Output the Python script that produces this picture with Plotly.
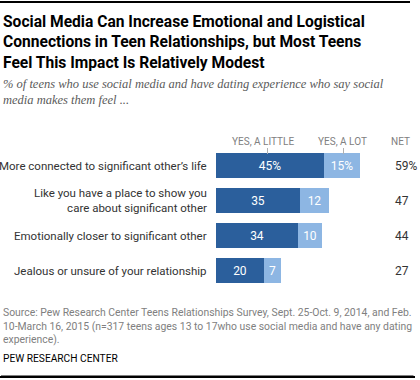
import plotly.graph_objects as go

categories = ["More connected to significant other’s life",
              "Like you have a place to show you<br>care about significant other",
              "Emotionally closer to significant other",
              "Jealous or unsure of your relationship"]
a_little = [45, 35, 34, 20]
a_lot = [15, 12, 10, 7]
net = [59, 47, 44, 27]
little_labels = ["45%", "35", "34", "20"]
lot_labels = ["15%", "12", "10", "7"]
net_labels = ["59%", "47", "44", "27"]

W, H = 420, 380
L, T, B = 216, 148, 92
PW = W - L
PH = H - T - B
XMAX = PW / 2.4

def px(x):
    return (x - L) / PW

def py(y):
    return (H - B - y) / PH

DARK = "#2b5f9c"
LIGHT = "#8db6e3"

fig = go.Figure()
ypos = list(range(len(categories)))
fig.add_trace(go.Bar(y=ypos, x=a_little, orientation="h", marker_color=DARK,
                     marker_line_width=0, width=0.71, text=little_labels,
                     textposition="inside", insidetextanchor="middle",
                     textfont=dict(color="white", size=12, family="Roboto"),
                     hoverinfo="skip"))
fig.add_trace(go.Bar(y=ypos, x=a_lot, orientation="h", marker_color=LIGHT,
                     marker_line_width=0, width=0.71, text=lot_labels,
                     textposition="inside", insidetextanchor="middle",
                     textfont=dict(color="white", size=12, family="Roboto"),
                     hoverinfo="skip"))

ann = []
for i, c in enumerate(categories):
    ann.append(dict(x=px(209), xref="paper", y=i, yref="y", text=c, showarrow=False,
                    xanchor="right", align="right",
                    font=dict(size=11.5, family="Roboto", color="#333333")))
    ann.append(dict(x=(393 - L) / 2.4, xref="x", y=i, yref="y", text=net_labels[i],
                    showarrow=False, xanchor="left",
                    font=dict(size=12, family="Roboto", color="#333333")))

ann.append(dict(x=px(263), y=py(141), xref="paper", yref="paper", text="YES, A LITTLE",
                showarrow=False, xanchor="center", yanchor="middle",
                font=dict(size=10, family="Roboto", color="#808080")))
ann.append(dict(x=px(342), y=py(141), xref="paper", yref="paper", text="YES, A LOT",
                showarrow=False, xanchor="center", yanchor="middle",
                font=dict(size=10, family="Roboto", color="#808080")))
ann.append(dict(x=px(400), y=py(141), xref="paper", yref="paper", text="NET",
                showarrow=False, xanchor="center", yanchor="middle",
                font=dict(size=10, family="Roboto", color="#808080")))

ann.append(dict(x=px(1), y=py(42), xref="paper", yref="paper",
                text="<b>Social Media Can Increase Emotional and Logistical<br>Connections in Teen Relationships, but Most Teens<br>Feel This Impact Is Relatively Modest</b>",
                showarrow=False, xanchor="left", yanchor="middle", align="left",
                font=dict(size=15.6, family="Roboto", color="#000000")))
ann.append(dict(x=px(1), y=py(92), xref="paper", yref="paper",
                text="<i>% of teens who use social media and have dating experience who say social<br>media makes them feel ...</i>",
                showarrow=False, xanchor="left", yanchor="middle", align="left",
                font=dict(size=12.5, family="Liberation Serif", color="#5a5a5a")))
ann.append(dict(x=px(1), y=py(326), xref="paper", yref="paper",
                text="Source: Pew Research Center Teens Relationships Survey, Sept. 25-Oct. 9, 2014, and Feb.<br>10-March 16, 2015 (n=317 teens ages 13 to 17who use social media and have any dating<br>experience).",
                showarrow=False, xanchor="left", yanchor="middle", align="left",
                font=dict(size=10.4, family="Roboto", color="#808080")))
ann.append(dict(x=px(1), y=py(358), xref="paper", yref="paper",
                text="PEW RESEARCH CENTER",
                showarrow=False, xanchor="left", yanchor="middle", align="left",
                font=dict(size=10.2, family="Roboto", color="#000000")))

# decorative rules drawn as filled annotation boxes
def rule(x0, x1, yc, thick, color):
    return dict(x=px(x0), y=py(yc), xref="paper", yref="paper", text=" ",
                showarrow=False, xanchor="left", yanchor="middle",
                width=x1 - x0, height=thick, bgcolor=color, borderpad=0, borderwidth=0,
                font=dict(size=1, color=color))

ann.append(rule(0, 410, 1.5, 2, "#000000"))
ann.append(rule(0, 415, 376.5, 2, "#000000"))
ann.append(rule(266.5, 267.5, 151, 6, "#b0b0b0"))
ann.append(rule(342.5, 343.5, 151, 6, "#b0b0b0"))
# bottom rule also as an arrowless line from an annotation arrow
ann.append(dict(x=px(0), y=py(376.5), xref="paper", yref="paper", text=" ",
                showarrow=True, arrowhead=0, arrowwidth=2, arrowcolor="#000000",
                ax=415, ay=0, axref="pixel", ayref="pixel", standoff=0, startstandoff=0,
                font=dict(size=1, color="#000000")))

hidden_axis = dict(showgrid=False, zeroline=False, showticklabels=False, showline=False,
                   ticks="", fixedrange=True)

fig.update_layout(
    width=W, height=H, barmode="stack", showlegend=False,
    margin=dict(l=L, r=0, t=T, b=B, pad=0),
    paper_bgcolor="white", plot_bgcolor="white",
    xaxis=dict(range=[0, XMAX], **hidden_axis),
    yaxis=dict(range=[3.5, -0.5], **hidden_axis),
    annotations=ann, bargap=0,
)

fig.write_html("out.html", config={"displayModeBar": False},
               post_script="document.body.style.margin='0';document.body.style.overflow='hidden';")
